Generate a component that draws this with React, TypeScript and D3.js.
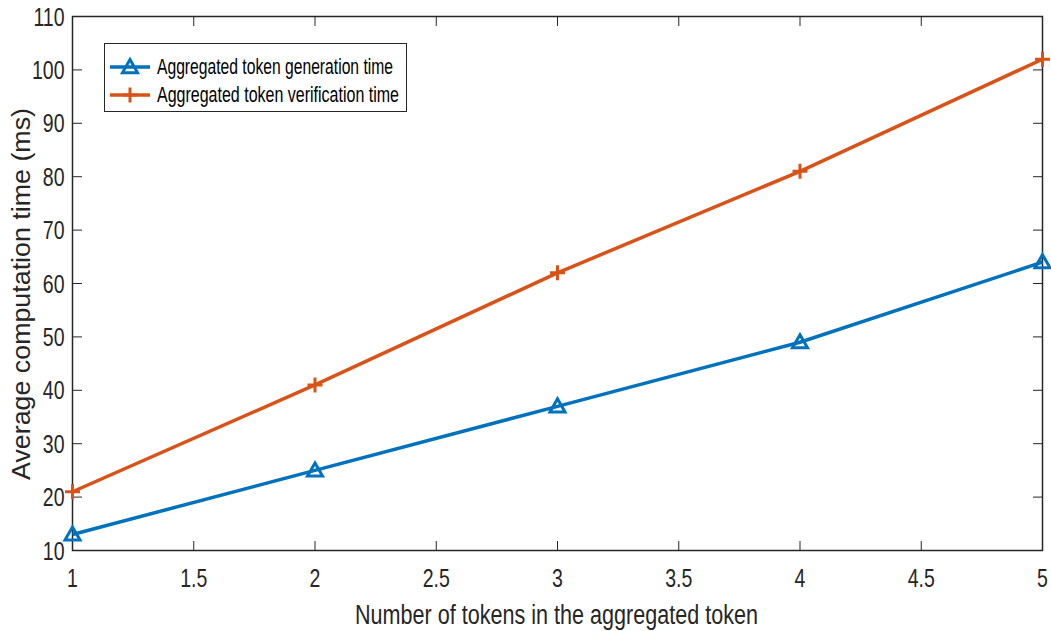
import * as d3 from "d3";
import React from "react";

const tokens = [1, 2, 3, 4, 5];
const genTime = [13, 25, 37, 49, 64];
const verTime = [21, 41, 62, 81, 102];
const xTicks = [1, 1.5, 2, 2.5, 3, 3.5, 4, 4.5, 5];
const yTicks = [10, 20, 30, 40, 50, 60, 70, 80, 90, 100, 110];
const seriesNames = ["Aggregated token generation time", "Aggregated token verification time"];

const BLUE = "#0072BD";
const ORANGE = "#D95319";
const AXIS = "#262626";
const FONT = "'Liberation Sans', Arial, Helvetica, sans-serif";

const App: React.FC = (): React.ReactElement => {
  const ref = React.useRef<SVGSVGElement>(null);

  React.useEffect(() => {
    const width = 1051;
    const height = 631;
    const margin = { left: 72.5, right: 8.5, top: 16.5, bottom: 80.5 };

    const svg = d3.select(ref.current);
    svg.selectAll("*").remove();

    const x = d3.scaleLinear().domain([1, 5]).range([margin.left, width - margin.right]);
    const y = d3.scaleLinear().domain([10, 110]).range([height - margin.bottom, margin.top]);

    const g = svg.append("g");
    const [x0, x1] = x.range();
    const [y0, y1] = y.range();

    // squeezed text, like the narrow font in the picture
    const label = (px: number, py: number, txt: string, size: number, anchor: string, sx: number) =>
      g.append("text")
        .attr("transform", `translate(${px},${py}) scale(${sx},1)`)
        .attr("text-anchor", anchor)
        .attr("font-family", FONT).attr("font-size", size).attr("fill", AXIS)
        .text(txt);

    // box
    g.append("rect")
      .attr("x", x0).attr("y", y1)
      .attr("width", x1 - x0).attr("height", y0 - y1)
      .attr("fill", "none").attr("stroke", AXIS).attr("stroke-width", 1.5);

    const tl = 9.5;
    xTicks.forEach((t) => {
      g.append("line").attr("x1", x(t)).attr("x2", x(t)).attr("y1", y0).attr("y2", y0 - tl)
        .attr("stroke", AXIS).attr("stroke-width", 1);
      g.append("line").attr("x1", x(t)).attr("x2", x(t)).attr("y1", y1).attr("y2", y1 + tl)
        .attr("stroke", AXIS).attr("stroke-width", 1);
      label(x(t), y0 + 36, String(t), 25, "middle", 0.78);
    });
    yTicks.forEach((t) => {
      g.append("line").attr("x1", x0).attr("x2", x0 + tl).attr("y1", y(t)).attr("y2", y(t))
        .attr("stroke", AXIS).attr("stroke-width", 1);
      g.append("line").attr("x1", x1).attr("x2", x1 - tl).attr("y1", y(t)).attr("y2", y(t))
        .attr("stroke", AXIS).attr("stroke-width", 1);
      label(x0 - 8, y(t) + 9, String(t), 25, "end", 0.78);
    });

    // axis titles
    g.append("text").attr("x", 355).attr("y", 624)
      .attr("textLength", 403).attr("lengthAdjust", "spacingAndGlyphs")
      .attr("font-family", FONT).attr("font-size", 27).attr("fill", AXIS)
      .text("Number of tokens in the aggregated token");
    g.append("text").attr("transform", "translate(30, 480) rotate(-90)")
      .attr("textLength", 372).attr("lengthAdjust", "spacingAndGlyphs")
      .attr("font-family", FONT).attr("font-size", 25).attr("fill", AXIS)
      .text("Average computation time (ms)");

    const line = d3.line<number>().x((_, i) => x(tokens[i])).y((d) => y(d));

    const tri = (cx: number, cy: number) => {
      const s = 7.5;
      return `M${cx},${cy - s}L${cx + s},${cy + s * 0.75}L${cx - s},${cy + s * 0.75}Z`;
    };
    const plus = (cx: number, cy: number) => {
      const s = 7.5;
      return `M${cx - s},${cy}L${cx + s},${cy}M${cx},${cy - s}L${cx},${cy + s}`;
    };

    const series = [
      { data: genTime, color: BLUE, marker: tri },
      { data: verTime, color: ORANGE, marker: plus },
    ];

    series.forEach((s) => {
      g.append("path").datum(s.data).attr("d", line).attr("fill", "none")
        .attr("stroke", s.color).attr("stroke-width", 3.5);
      g.selectAll(null).data(s.data).enter().append("path")
        .attr("d", (d, i) => s.marker(x(tokens[i]), y(d)))
        .attr("fill", "none").attr("stroke", s.color).attr("stroke-width", 3);
    });

    // legend
    const lg = g.append("g");
    lg.append("rect").attr("x", 104.5).attr("y", 43.5).attr("width", 302).attr("height", 68)
      .attr("fill", "white").attr("stroke", AXIS).attr("stroke-width", 1);
    const textLens = [236, 242];
    series.forEach((s, i) => {
      const ly = 67 + i * 28;
      lg.append("line").attr("x1", 110).attr("x2", 150).attr("y1", ly).attr("y2", ly)
        .attr("stroke", s.color).attr("stroke-width", 3.5);
      lg.append("path").attr("d", s.marker(130, ly)).attr("fill", "none")
        .attr("stroke", s.color).attr("stroke-width", 3);
      lg.append("text").attr("x", 157).attr("y", ly + 7)
        .attr("textLength", textLens[i]).attr("lengthAdjust", "spacingAndGlyphs")
        .attr("font-family", FONT).attr("font-size", 21.5).attr("fill", "#000")
        .text(seriesNames[i]);
    });
  }, []);

  return (
    <svg
      ref={ref}
      width={1051}
      height={631}
      style={{ position: "absolute", left: 0, top: 0, background: "white" }}
    />
  );
};

export default App;
